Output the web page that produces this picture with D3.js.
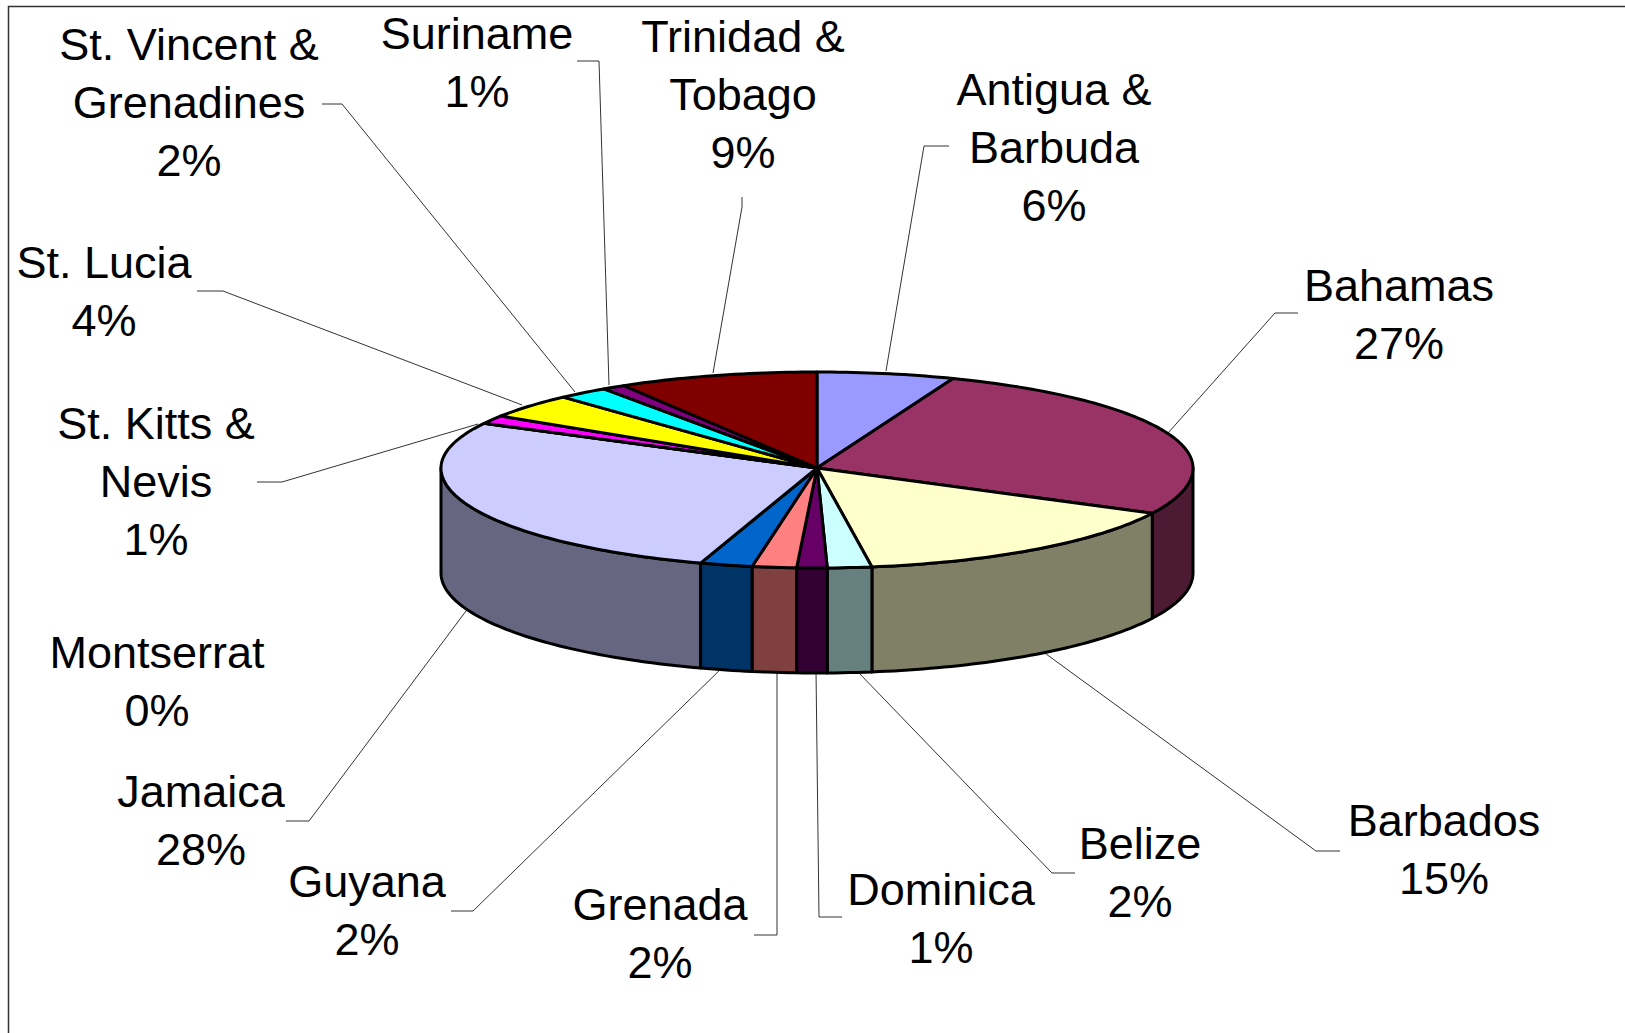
<!DOCTYPE html>
<html>
<head>
<meta charset="utf-8">
<title>Caribbean pie</title>
<script src="https://d3js.org/d3.v7.min.js"></script>
<style>
    body { margin: 0; background: #fff; overflow: hidden; }
    text { font-family: 'Liberation Sans', Arial, sans-serif; font-size: 45px; fill: #000; text-anchor: middle; }
    .leader { fill: none; stroke: #333; stroke-width: 1px; }
    .slice { stroke: #000; stroke-width: 3px; stroke-linejoin: round; }
</style>
</head>
<body>
<svg id="chart" width="1625" height="1033"></svg>
<script>
    // slightly finer than the printed percentages
    const categories = ["Antigua & Barbuda", "Bahamas", "Barbados", "Belize", "Dominica", "Grenada", "Guyana",
        "Jamaica", "Montserrat", "St. Kitts & Nevis", "St. Lucia", "St. Vincent & Grenadines", "Suriname", "Trinidad & Tobago"];
    const shares = [5.9, 26.6, 15.2, 1.9, 1.3, 1.9, 2.25, 27.7, 0.02, 1.4, 4.1, 2.2, 1.0, 8.6];
    const colors = ["#9999ff", "#993366", "#ffffcc", "#ccffff", "#660066", "#ff8080", "#0066cc",
        "#ccccff", "#000080", "#ff00ff", "#ffff00", "#00ffff", "#800080", "#800000"];

    // label anchor: centre x, first baseline y
    const labelPos = [[1054,105],[1399,301],[1444,836],[1140,859],[941,905],[660,920],[367,897],
        [201,807],[157,668],[156,439],[104,278],[189,60],[477,49],[743,52]];
    // leader polylines, pie end first
    const leaders = [
        [[886,371],[924,146],[949,146]],
        [[1168,433],[1275,313],[1298,313]],
        [[1042,651],[1316,851],[1340,851]],
        [[858,672],[1052,873],[1075,873]],
        [[816,670],[819,917],[842,917]],
        [[777,670],[777,935],[754,935]],
        [[725,665],[473,911],[451,911]],
        [[466,611],[309,821],[286,821]],
        null,
        [[478,424],[282,482],[257,482]],
        [[522,405],[223,291],[197,291]],
        [[575,392],[342,104],[322,104]],
        [[609,385],[599,61],[577,61]],
        [[713,373],[742,207],[742,197]]
    ];

    const svg = d3.select("#chart");
    const cx = 817, cy = 468, rx = 376, ryBack = 96, ryFront = 100, depth = 105;

    // frame runs off the right and bottom edges
    svg.append("path").attr("d", "M8.5,1033V6.5H1625").attr("fill", "none").attr("stroke", "#333").attr("stroke-width", 1.5);

    const total = d3.sum(shares);
    const pct = d3.format(".0%");
    const arcs = d3.pie().sort(null).value(d => d)(shares);

    // angle is clockwise from 12 o'clock, flattened onto the tilted disc
    function project(a, drop) {
        const c = -Math.cos(a);
        return [cx + rx * Math.sin(a), cy + (c > 0 ? ryFront : ryBack) * c + drop];
    }
    function sweep(a0, a1, drop) {
        const n = Math.max(2, Math.ceil((a1 - a0) / 0.02));
        return d3.range(n + 1).map(i => project(a0 + (a1 - a0) * i / n, drop));
    }
    const line = d3.line();

    leaders.forEach(pts => {
        if (pts) svg.append("path").attr("class", "leader").attr("d", line(pts));
    });

    // side walls, only the part of each slice facing the viewer
    const frontA = Math.PI / 2, frontB = Math.PI * 1.5;
    arcs.forEach((d, i) => {
        const a0 = Math.max(d.startAngle, frontA), a1 = Math.min(d.endAngle, frontB);
        if (a1 <= a0) return;
        const pts = sweep(a0, a1, 0).concat(sweep(a0, a1, depth).reverse());
        const c = d3.rgb(colors[i]);
        svg.append("path").attr("class", "slice")
            .attr("fill", d3.rgb(c.r / 2, c.g / 2, c.b / 2))
            .attr("d", line(pts) + "Z");
    });

    // top faces
    arcs.forEach((d, i) => {
        const pts = [[cx, cy]].concat(sweep(d.startAngle, d.endAngle, 0));
        svg.append("path").attr("class", "slice").attr("fill", colors[i]).attr("d", line(pts) + "Z");
    });

    // labels: name broken after "&", then the percent
    categories.forEach((name, i) => {
        const rows = name.replace(" & ", " &\n").split("\n").concat(pct(shares[i] / total));
        const t = svg.append("text");
        rows.forEach((r, j) => {
            t.append("tspan").attr("x", labelPos[i][0]).attr("y", labelPos[i][1] + j * 58).text(r);
        });
    });
</script>
</body>
</html>
